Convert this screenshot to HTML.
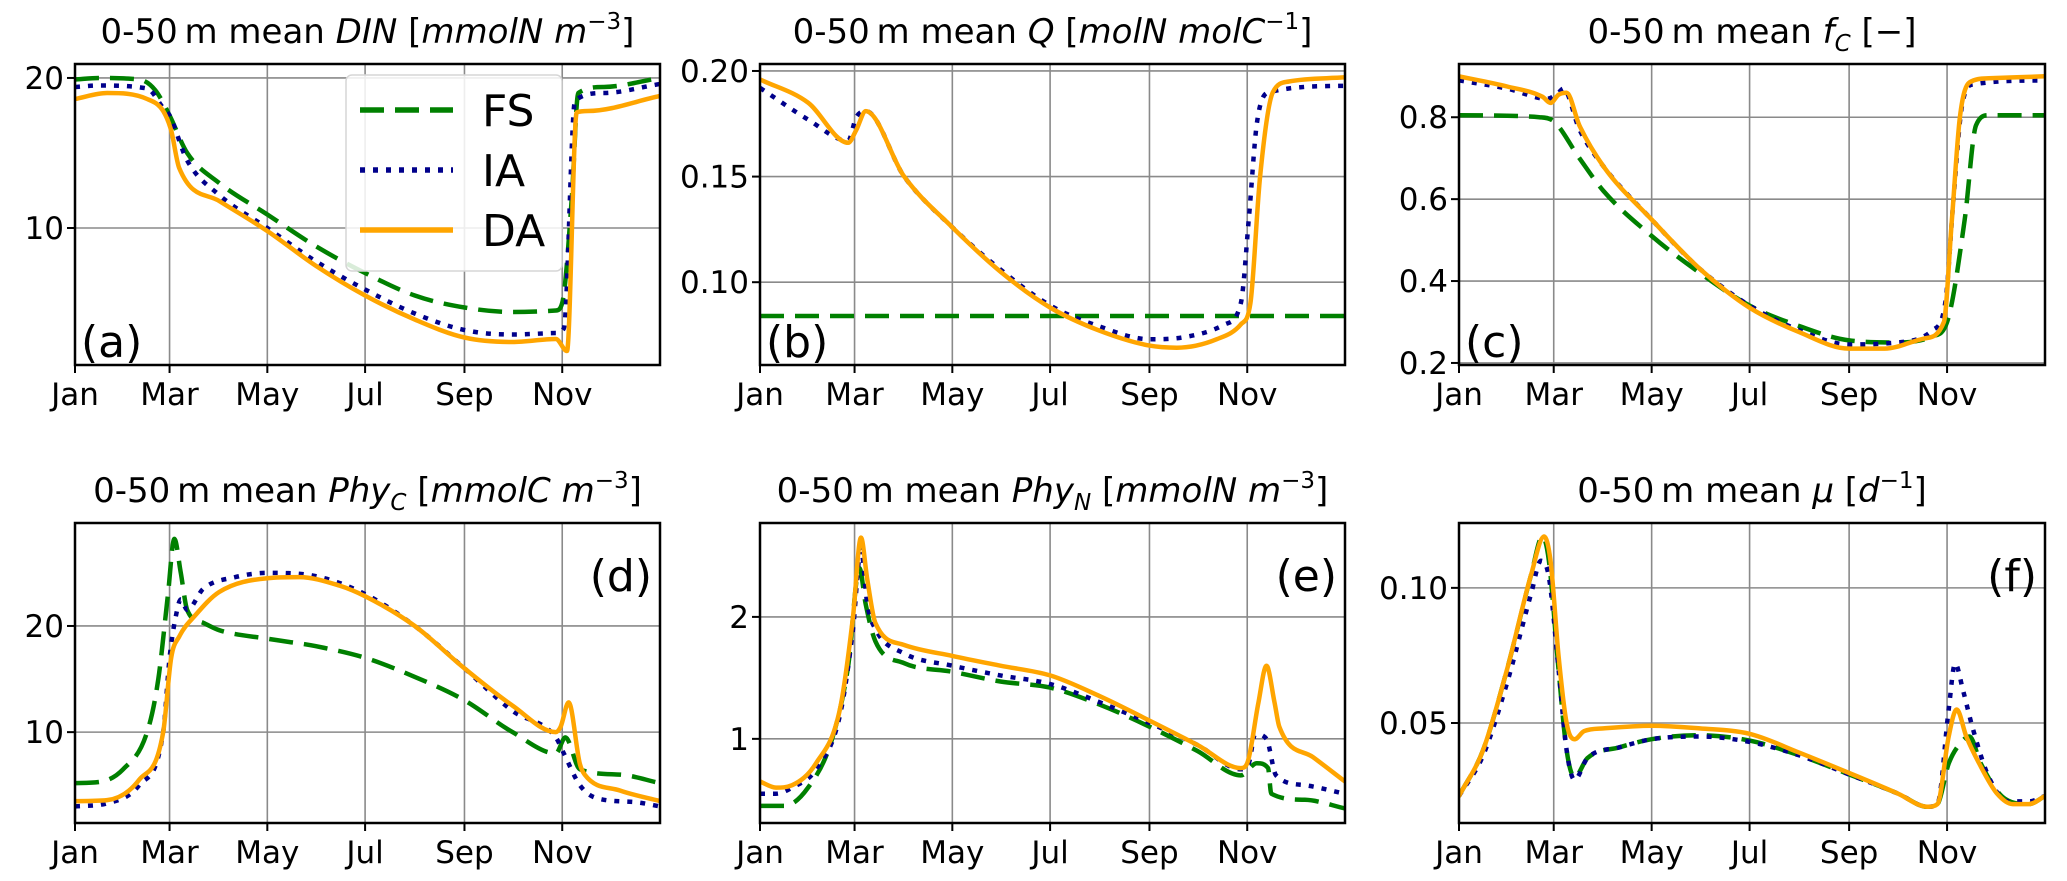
<!DOCTYPE html>
<html><head><meta charset="utf-8">
<style>
html,body{margin:0;padding:0;background:#fff;}
svg{display:block;font-family:"DejaVu Sans","Liberation Sans",sans-serif;}
</style></head>
<body>
<svg id="fig" width="2067" height="881" viewBox="0 0 2067 881" xmlns="http://www.w3.org/2000/svg"></svg>
<script>
// ---- data (day of year, value) ----
const monthTicks = [0, 59, 120, 181, 243, 304];
const monthLabels = ["Jan","Mar","May","Jul","Sep","Nov"];
const seriesNames = ["FS","IA","DA"];

const dinFS_d=[0,15,40,50,59,70,90,120,150,181,212,243,273,300,304,310,314,330,365];
const dinFS_v=[19.9,20,19.9,19.2,17.5,15,13,10.9,8.8,7,5.5,4.7,4.4,4.5,5,12,19,19.4,20];
const dinIA_d=[0,15,45,55,59,70,90,120,150,181,212,243,273,300,305,312,330,365];
const dinIA_v=[19.4,19.5,19.3,18,17.5,14.5,12.2,10,7.8,5.9,4.3,3.2,2.9,3.0,3.3,18.5,19,19.6];
const dinDA_d=[0,20,45,55,60,65,90,120,150,181,212,243,273,300,307,313,320,365];
const dinDA_v=[18.6,19.0,18.6,17.8,16.5,14,11.8,9.8,7.5,5.5,3.9,2.7,2.4,2.6,1.8,17.7,17.8,18.8];

const qFS_d=[0,365];
const qFS_v=[0.084,0.084];
const qIA_d=[0,30,55,60,66,90,120,150,181,212,243,265,290,300,305,310,318,365];
const qIA_v=[0.192,0.177,0.167,0.178,0.181,0.150,0.126,0.106,0.089,0.079,0.073,0.074,0.080,0.090,0.130,0.175,0.190,0.193];
const qDA_d=[0,30,55,60,66,90,120,150,181,212,243,260,285,300,306,312,320,330,365];
const qDA_v=[0.196,0.185,0.166,0.172,0.181,0.150,0.126,0.105,0.088,0.077,0.070,0.069,0.073,0.080,0.090,0.150,0.190,0.195,0.197];

const fcFS_d=[0,50,59,75,90,120,150,181,212,243,273,295,304,315,322,330,365];
const fcFS_v=[0.805,0.80,0.79,0.70,0.62,0.51,0.42,0.34,0.29,0.255,0.25,0.265,0.30,0.55,0.78,0.805,0.805];
const fcIA_d=[0,30,55,62,65,75,90,120,150,181,212,243,273,295,303,308,313,320,365];
const fcIA_v=[0.89,0.87,0.845,0.86,0.87,0.77,0.68,0.55,0.43,0.34,0.28,0.245,0.25,0.28,0.35,0.60,0.82,0.88,0.89];
const fcDA_d=[0,30,52,57,62,67,75,90,120,150,181,212,243,265,290,302,307,312,318,330,365];
const fcDA_v=[0.90,0.875,0.85,0.835,0.855,0.86,0.78,0.68,0.55,0.43,0.335,0.275,0.235,0.235,0.26,0.30,0.55,0.80,0.885,0.895,0.90];

const pcFS_d=[0,15,30,45,52,58,62,66,70,80,90,120,150,181,212,243,273,300,306,315,340,365];
const pcFS_v=[5.2,5.3,6.5,10,15,23,28.2,25,21.5,20.3,19.6,18.8,18.1,17,15.2,13,10,8,9.5,6.5,6,5.2];
const pcIA_d=[0,20,40,55,59,63,66,70,80,100,120,150,181,212,243,273,300,305,315,325,350,365];
const pcIA_v=[3,3.3,5,10,17,21,22.5,21.5,23.5,24.6,25,24.7,23,20,16,12,9.5,8,5,3.8,3.4,3];
const pcDA_d=[0,20,40,55,60,65,75,90,120,140,165,181,212,243,273,300,303,308,315,318,340,365];
const pcDA_v=[3.5,3.6,5.5,10,17,19,21,23.2,24.5,24.6,23.8,22.8,20,16,12.5,10,10.5,12.8,7,6,4.5,3.5];

const pnFS_d=[0,15,30,45,55,62,66,72,90,120,150,181,212,243,273,300,310,317,319,340,365];
const pnFS_v=[0.45,0.45,0.6,1.0,1.6,2.4,2.1,1.8,1.62,1.55,1.47,1.42,1.28,1.1,0.9,0.7,0.8,0.76,0.55,0.5,0.43];
const pnIA_d=[0,10,20,35,50,58,63,67,72,90,120,150,181,212,243,273,300,305,309,316,322,340,365];
const pnIA_v=[0.55,0.55,0.6,0.75,1.2,1.9,2.55,2.1,1.9,1.7,1.6,1.52,1.45,1.3,1.13,0.95,0.75,0.8,1.04,1.0,0.7,0.62,0.55];
const pnDA_d=[0,10,20,35,50,58,63,67,72,90,120,150,181,212,243,273,300,304,311,316,321,324,345,365];
const pnDA_v=[0.65,0.6,0.62,0.8,1.25,2.0,2.65,2.3,1.95,1.77,1.68,1.6,1.52,1.35,1.15,0.95,0.76,0.8,1.3,1.6,1.3,1.1,0.85,0.65];

const muFS_d=[0,15,30,45,52,56,62,67,72,80,100,120,150,181,212,243,273,292,298,305,313,318,325,340,355,365];
const muFS_v=[0.023,0.04,0.07,0.105,0.119,0.11,0.07,0.04,0.03,0.037,0.041,0.044,0.0455,0.0435,0.038,0.031,0.024,0.019,0.02,0.035,0.043,0.045,0.035,0.022,0.02,0.023];
const muIA_d=[0,15,30,45,51,56,62,67,72,80,100,120,150,181,212,243,273,292,298,305,309,314,320,330,342,355,365];
const muIA_v=[0.023,0.038,0.065,0.098,0.110,0.104,0.07,0.04,0.029,0.037,0.041,0.044,0.045,0.043,0.038,0.031,0.024,0.019,0.02,0.055,0.072,0.062,0.048,0.03,0.021,0.021,0.023];
const muDA_d=[0,15,30,45,53,57,62,67,72,78,90,120,150,181,212,243,273,292,298,305,310,316,324,335,345,355,365];
const muDA_v=[0.023,0.04,0.07,0.105,0.119,0.11,0.075,0.05,0.044,0.047,0.048,0.049,0.048,0.046,0.039,0.0315,0.024,0.019,0.02,0.045,0.055,0.045,0.035,0.024,0.02,0.02,0.023];

const NS="http://www.w3.org/2000/svg";
const svg=document.getElementById('fig');
function mk(tag,attrs,parent){const e=document.createElementNS(NS,tag);for(const k in attrs)e.setAttribute(k,attrs[k]);(parent||svg).appendChild(e);return e;}

// monotone cubic (Fritsch-Carlson) path through pixel points
function monoPath(px,py){
  const n=px.length;
  if(n<3)return px.map((x,i)=>(i?'L':'M')+x.toFixed(1)+','+py[i].toFixed(1)).join(' ');
  const dx=[],s=[];
  for(let i=0;i<n-1;i++){dx.push(px[i+1]-px[i]);s.push((py[i+1]-py[i])/dx[i]);}
  const m=[s[0]];
  for(let i=1;i<n-1;i++){m.push(s[i-1]*s[i]<=0?0:(s[i-1]+s[i])/2);}
  m.push(s[n-2]);
  for(let i=0;i<n-1;i++){
    if(s[i]===0){m[i]=0;m[i+1]=0;continue;}
    const a=m[i]/s[i],b=m[i+1]/s[i],h=a*a+b*b;
    if(h>9){const t=3/Math.sqrt(h);m[i]=t*a*s[i];m[i+1]=t*b*s[i];}
  }
  let d='M'+px[0].toFixed(1)+','+py[0].toFixed(1);
  for(let i=0;i<n-1;i++){
    const h=dx[i]/3;
    d+=' C'+(px[i]+h).toFixed(1)+','+(py[i]+m[i]*h).toFixed(1)+' '+(px[i+1]-h).toFixed(1)+','+(py[i+1]-m[i+1]*h).toFixed(1)+' '+px[i+1].toFixed(1)+','+py[i+1].toFixed(1);
  }
  return d;
}

const styles={
  FS:{stroke:"#008000",dash:"24,11",cap:"butt"},
  IA:{stroke:"#00008b",dash:"5,8",cap:"butt"},
  DA:{stroke:"#ffa500",dash:"",cap:"round"}
};

const panels=[
 {id:"a",x0:75,x1:660,y0:64,y1:365,ymin:0.87,ymax:20.93,ticks:[10,20],tl:["10","20"],
  title:[["0-50\u2009m mean ",0],["DIN",1],[" [",0],["mmolN m",1],["\u22123",2],["]",0]],
  s:{FS:[dinFS_d,dinFS_v],IA:[dinIA_d,dinIA_v],DA:[dinDA_d,dinDA_v]},lab:"(a)",labPos:"bl",legend:true},
 {id:"b",x0:760,x1:1345,y0:64,y1:365,ymin:0.0608,ymax:0.2033,ticks:[0.10,0.15,0.20],tl:["0.10","0.15","0.20"],
  title:[["0-50\u2009m mean ",0],["Q",1],[" [",0],["molN molC",1],["\u22121",2],["]",0]],
  s:{FS:[qFS_d,qFS_v],IA:[qIA_d,qIA_v],DA:[qDA_d,qDA_v]},lab:"(b)",labPos:"bl"},
 {id:"c",x0:1459,x1:2045,y0:64,y1:365,ymin:0.195,ymax:0.93,ticks:[0.2,0.4,0.6,0.8],tl:["0.2","0.4","0.6","0.8"],
  title:[["0-50\u2009m mean ",0],["f",1],["C",3],[" [\u2212]",0]],
  s:{FS:[fcFS_d,fcFS_v],IA:[fcIA_d,fcIA_v],DA:[fcDA_d,fcDA_v]},lab:"(c)",labPos:"bl"},
 {id:"d",x0:75,x1:660,y0:523,y1:823,ymin:1.44,ymax:29.7,ticks:[10,20],tl:["10","20"],
  title:[["0-50\u2009m mean ",0],["Phy",1],["C",3],[" [",0],["mmolC m",1],["\u22123",2],["]",0]],
  s:{FS:[pcFS_d,pcFS_v],IA:[pcIA_d,pcIA_v],DA:[pcDA_d,pcDA_v]},lab:"(d)",labPos:"tr"},
 {id:"e",x0:760,x1:1345,y0:523,y1:823,ymin:0.31,ymax:2.77,ticks:[1,2],tl:["1","2"],
  title:[["0-50\u2009m mean ",0],["Phy",1],["N",3],[" [",0],["mmolN m",1],["\u22123",2],["]",0]],
  s:{FS:[pnFS_d,pnFS_v],IA:[pnIA_d,pnIA_v],DA:[pnDA_d,pnDA_v]},lab:"(e)",labPos:"tr"},
 {id:"f",x0:1459,x1:2045,y0:523,y1:823,ymin:0.013,ymax:0.124,ticks:[0.05,0.10],tl:["0.05","0.10"],
  title:[["0-50\u2009m mean ",0],["\u03bc",1],[" [",0],["d",1],["\u22121",2],["]",0]],
  s:{FS:[muFS_d,muFS_v],IA:[muIA_d,muIA_v],DA:[muDA_d,muDA_v]},lab:"(f)",labPos:"tr"}
];

panels.forEach(p=>{
  const g=mk('g',{});
  
  
  const X=d=>p.x0+(d/365)*(p.x1-p.x0);
  const Y=v=>p.y1-(v-p.ymin)/(p.ymax-p.ymin)*(p.y1-p.y0);
  const clipId='clip-'+p.id;
  const cp=mk('clipPath',{id:clipId},g);
  mk('rect',{x:p.x0,y:p.y0,width:p.x1-p.x0,height:p.y1-p.y0},cp);
  monthTicks.forEach((d,i)=>{
    const l=mk('line',{x1:X(d),x2:X(d),y1:p.y0,y2:p.y1,stroke:"#8a8a8a","stroke-width":1.6},g);
    
    
    const t=mk('line',{x1:X(d),x2:X(d),y1:p.y1,y2:p.y1+8,stroke:"#000","stroke-width":2},g);
    
    
    const tx=mk('text',{x:X(d),y:p.y1+40,"text-anchor":"middle","font-size":31,fill:"#000"},g);
    tx.textContent=monthLabels[i];
    
    
  });
  p.ticks.forEach((v,i)=>{
    const l=mk('line',{x1:p.x0,x2:p.x1,y1:Y(v),y2:Y(v),stroke:"#8a8a8a","stroke-width":1.6},g);
    
    
    const t=mk('line',{x1:p.x0-8,x2:p.x0,y1:Y(v),y2:Y(v),stroke:"#000","stroke-width":2},g);
    
    
    const tx=mk('text',{x:p.x0-11,y:Y(v)+11,"text-anchor":"end","font-size":31,fill:"#000"},g);
    tx.textContent=p.tl[i];
    
    
  });
  const sg=mk('g',{"clip-path":"url(#"+clipId+")"},g);
  seriesNames.forEach(n=>{
    const [ds,vs]=p.s[n];const st=styles[n];
    const dstr=monoPath(ds.map(X),vs.map(Y));
    const a={d:dstr,fill:"none",stroke:st.stroke,"stroke-width":4.5,"stroke-linejoin":"round","stroke-linecap":st.cap};
    if(st.dash)a["stroke-dasharray"]=st.dash;
    const path=mk('path',a,sg);
    
    
  });
  const fr=mk('rect',{x:p.x0,y:p.y0,width:p.x1-p.x0,height:p.y1-p.y0,fill:"none",stroke:"#000","stroke-width":2.5},g);
  
  
  const tY=p.y0-21;
  const tt=mk('text',{x:(p.x0+p.x1)/2,y:tY,"text-anchor":"middle","font-size":34,fill:"#000"},g);
  
  
  p.title.forEach(([s,k],i)=>{
    const ts=mk('tspan',{},tt);
    if(k===1)ts.setAttribute('font-style','italic');
    if(k===2){ts.setAttribute('font-size','23');ts.setAttribute('dy','-14');}
    if(k===3){ts.setAttribute('font-size','23');ts.setAttribute('dy','8');ts.setAttribute('font-style','italic');}
    const prev=i>0?p.title[i-1][1]:0;
    if((prev===2||prev===3)&&k!==2&&k!==3)ts.setAttribute('dy',prev===2?'14':'-8');
    ts.textContent=s;
  });
  let lx,ly,anc;
  if(p.labPos==="bl"){lx=p.x0+6;ly=p.y1-8;anc="start";}else{lx=p.x1-8;ly=p.y0+68;anc="end";}
  const lb=mk('text',{x:lx,y:ly,"text-anchor":anc,"font-size":44,fill:"#000"},g);
  lb.textContent=p.lab;
  
  
  if(p.legend){
    const lg=mk('g',{},g);
    
    
    mk('rect',{x:346,y:75,width:216,height:196,rx:6,fill:"#fff","fill-opacity":0.85,stroke:"#d6d6d6","stroke-width":1.5},lg);
    seriesNames.forEach((n,i)=>{
      const yy=110+i*60;const st=styles[n];
      const a={x1:360,x2:453,y1:yy,y2:yy,stroke:st.stroke,"stroke-width":5.5};
      if(st.dash)a["stroke-dasharray"]=st.dash;
      const ln=mk('line',a,lg);
      
      
      const tx=mk('text',{x:482,y:yy+16,"font-size":44,fill:"#000"},lg);
      tx.textContent=n;
      
      
    });
  }
});
</script>
</body></html>
